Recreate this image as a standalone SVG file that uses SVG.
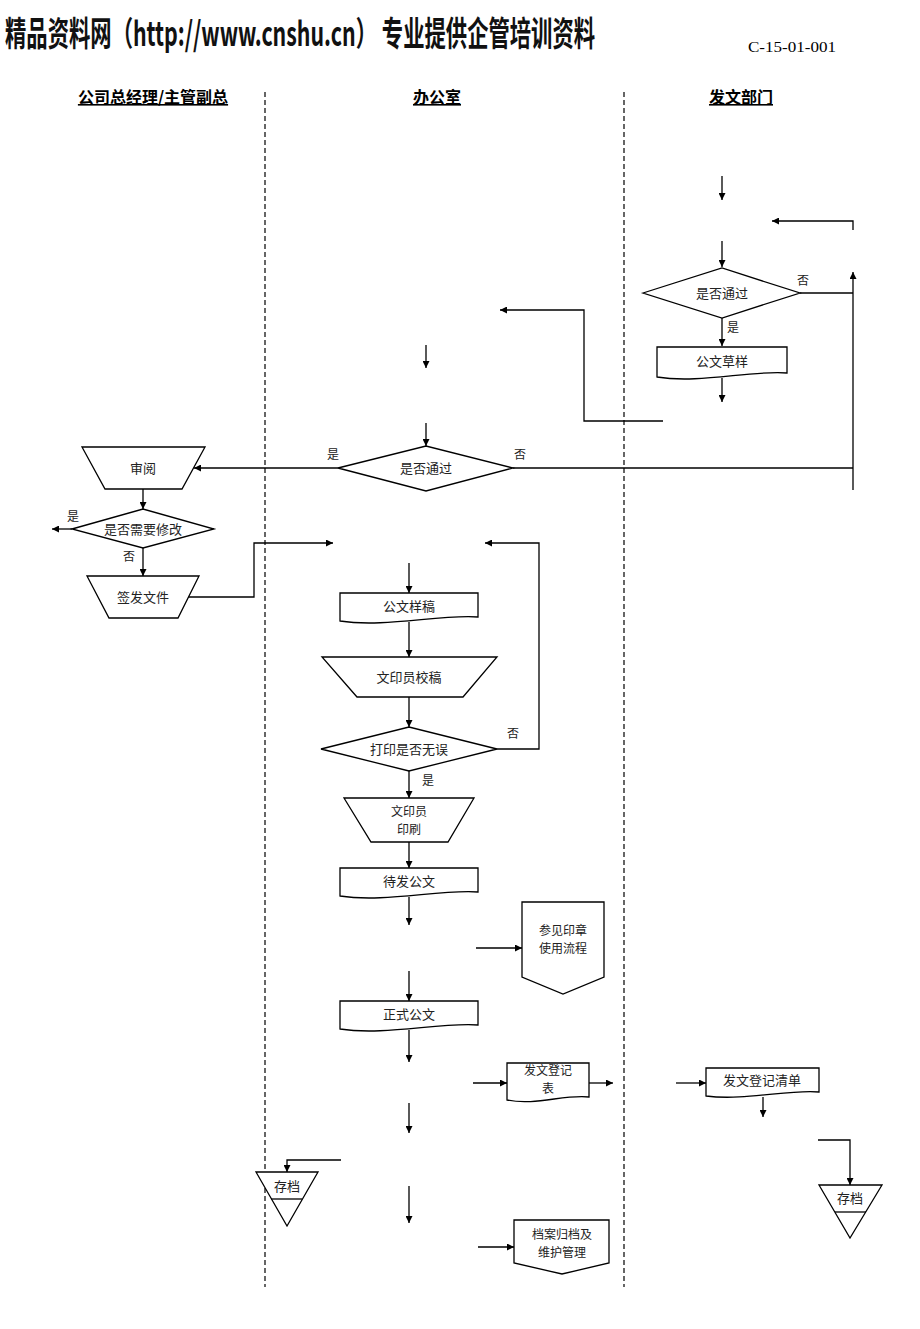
<svg xmlns="http://www.w3.org/2000/svg" width="920" height="1329" viewBox="0 0 920 1329">
<style>
.s{fill:#fff;stroke:#000;stroke-width:1.3}
.c{fill:none;stroke:#000;stroke-width:1.3}
.ca{fill:none;stroke:#000;stroke-width:1.3;marker-end:url(#ah)}
.t{font-family:"Noto Sans CJK SC","Liberation Serif",serif;font-size:13px;fill:#222;text-anchor:middle}
.t2{font-family:"Noto Sans CJK SC","Liberation Serif",serif;font-size:12px;fill:#222;text-anchor:middle}
.l{font-family:"Noto Sans CJK SC","Liberation Serif",serif;font-size:12px;fill:#222}
.h{font-family:"Noto Sans CJK SC",sans-serif;font-size:16px;font-weight:bold;fill:#000;text-anchor:middle;text-decoration:underline}
.d{stroke:#000;stroke-width:1.2;stroke-dasharray:5 3}
</style>
<defs>
<marker id="ah" viewBox="0 0 10 10" refX="10" refY="5" markerWidth="8" markerHeight="7" orient="auto" markerUnits="userSpaceOnUse"><path d="M0,0 L10,5 L0,10 z" fill="#000"/></marker>
</defs>
<rect width="920" height="1329" fill="#fff"/>
<g id="header">
<text transform="translate(5,46) scale(0.7,1.05)" font-family="Noto Sans CJK SC, sans-serif" font-size="32" font-weight="bold" fill="#111" textLength="843" lengthAdjust="spacingAndGlyphs">精品资料网（http://www.cnshu.cn） 专业提供企管培训资料</text>
<text x="748" y="52" font-family="Liberation Serif, serif" font-size="14" fill="#000" textLength="88" lengthAdjust="spacingAndGlyphs">C-15-01-001</text>
<text class="h" x="153" y="103">公司总经理/主管副总</text>
<text class="h" x="437" y="103">办公室</text>
<text class="h" x="741" y="103">发文部门</text>
<line class="d" x1="265" y1="92" x2="265" y2="1287"/>
<line class="d" x1="624" y1="92" x2="624" y2="1287"/>
</g>
<g id="connectors">
<path class="ca" d="M722,176 V200"/>
<path class="ca" d="M853,230 V221 H772"/>
<path class="ca" d="M722,241 V267"/>
<path class="c" d="M800,293 H853"/>
<path class="ca" d="M853,490 V272"/>
<path class="ca" d="M722,318 V346"/>
<path class="ca" d="M722,378 V402"/>
<path class="ca" d="M663,421 H584 V310 H500"/>
<path class="ca" d="M426,345 V368"/>
<path class="ca" d="M426,423 V446"/>
<path class="c" d="M513,468 H853"/>
<path class="ca" d="M338,468 H194"/>
<path class="ca" d="M143,489 V509"/>
<path class="ca" d="M72,529 H52"/>
<path class="ca" d="M143,548 V576"/>
<path class="ca" d="M188,597 H254 V543 H333"/>
<path class="ca" d="M497,749 H539 V543 H485"/>
<path class="ca" d="M409,563 V593"/>
<path class="ca" d="M409,622 V657"/>
<path class="ca" d="M409,697 V727"/>
<path class="ca" d="M409,771 V798"/>
<path class="ca" d="M409,842 V868"/>
<path class="ca" d="M409,897 V925"/>
<path class="ca" d="M476,948 H522"/>
<path class="ca" d="M409,971 V1001"/>
<path class="ca" d="M409,1030 V1062"/>
<path class="ca" d="M473,1083 H507"/>
<path class="ca" d="M589,1083 H613"/>
<path class="ca" d="M676,1083 H706"/>
<path class="ca" d="M763,1097 V1117"/>
<path class="ca" d="M818,1140 H850 V1185"/>
<path class="ca" d="M409,1103 V1133"/>
<path class="ca" d="M341,1160 H287 V1172"/>
<path class="ca" d="M409,1186 V1223"/>
<path class="ca" d="M478,1247 H514"/>
</g>
<g id="labels">
<text class="l" x="797" y="285">否</text>
<text class="l" x="727" y="332">是</text>
<text class="l" x="327" y="459">是</text>
<text class="l" x="514" y="459">否</text>
<text class="l" x="67" y="521">是</text>
<text class="l" x="123" y="561">否</text>
<text class="l" x="507" y="738">否</text>
<text class="l" x="422" y="785">是</text>
</g>
<g id="n_gwcy"><path class="s" d="M657,347 H787 V373 C750,370 700,384 657,377 Z"/><text class="t" x="722" y="366">公文草样</text></g>
<g id="n_pass1"><polygon class="s" points="643,293 722,268 800,293 722,318"/><text class="t" x="722" y="298">是否通过</text></g>
<g id="n_pass2"><polygon class="s" points="338,468 426,446 513,468 426,491"/><text class="t" x="426" y="473">是否通过</text></g>
<g id="n_review"><polygon class="s" points="82,447 205,447 182,489 105,489"/><text class="t" x="143" y="473">审阅</text></g>
<g id="n_modify"><polygon class="s" points="72,529 143,509 214,529 143,548"/><text class="t" x="143" y="534">是否需要修改</text></g>
<g id="n_sign"><polygon class="s" points="87,576 199,576 178,618 109,618"/><text class="t" x="143" y="602">签发文件</text></g>
<g id="n_gwyg"><path class="s" d="M340,593 H478 V617 C440,614 385,628 340,621 Z"/><text class="t" x="409" y="611">公文样稿</text></g>
<g id="n_proof"><polygon class="s" points="322,657 497,657 463,697 357,697"/><text class="t" x="409" y="682">文印员校稿</text></g>
<g id="n_print_ok"><polygon class="s" points="321,749 409,727 497,749 409,771"/><text class="t" x="409" y="754">打印是否无误</text></g>
<g id="n_printing"><polygon class="s" points="344,798 474,798 448,842 371,842"/><text class="t2" x="409" y="816">文印员</text><text class="t2" x="409" y="834">印刷</text></g>
<g id="n_pending"><path class="s" d="M340,868 H478 V892 C440,889 385,903 340,896 Z"/><text class="t" x="409" y="886">待发公文</text></g>
<g id="n_seal"><polygon class="s" points="522,902 604,902 604,977 563,994 522,977"/><text class="t2" x="563" y="935">参见印章</text><text class="t2" x="563" y="953">使用流程</text></g>
<g id="n_formal"><path class="s" d="M340,1001 H478 V1025 C440,1022 385,1036 340,1029 Z"/><text class="t" x="409" y="1019">正式公文</text></g>
<g id="n_regform"><path class="s" d="M507,1063 H589 V1097 C565,1094 535,1106 507,1100 Z"/><text class="t2" x="548" y="1075">发文登记</text><text class="t2" x="548" y="1093">表</text></g>
<g id="n_reglist"><path class="s" d="M706,1068 H819 V1092 C790,1089 745,1101 706,1096 Z"/><text class="t" x="762" y="1085">发文登记清单</text></g>
<g id="n_archive_r"><polygon class="s" points="819,1185 882,1185 850,1238"/><line class="c" x1="835" y1="1212" x2="866" y2="1212"/><text class="t" x="850" y="1203">存档</text></g>
<g id="n_archive_mgmt"><polygon class="s" points="514,1220 609,1220 609,1263 562,1274 514,1263"/><text class="t2" x="562" y="1239">档案归档及</text><text class="t2" x="562" y="1257">维护管理</text></g>
<g id="n_archive_l"><polygon class="s" points="256,1172 318,1172 287,1226"/><line class="c" x1="271" y1="1199" x2="302" y2="1199"/><text class="t" x="287" y="1191">存档</text></g>
</svg>
